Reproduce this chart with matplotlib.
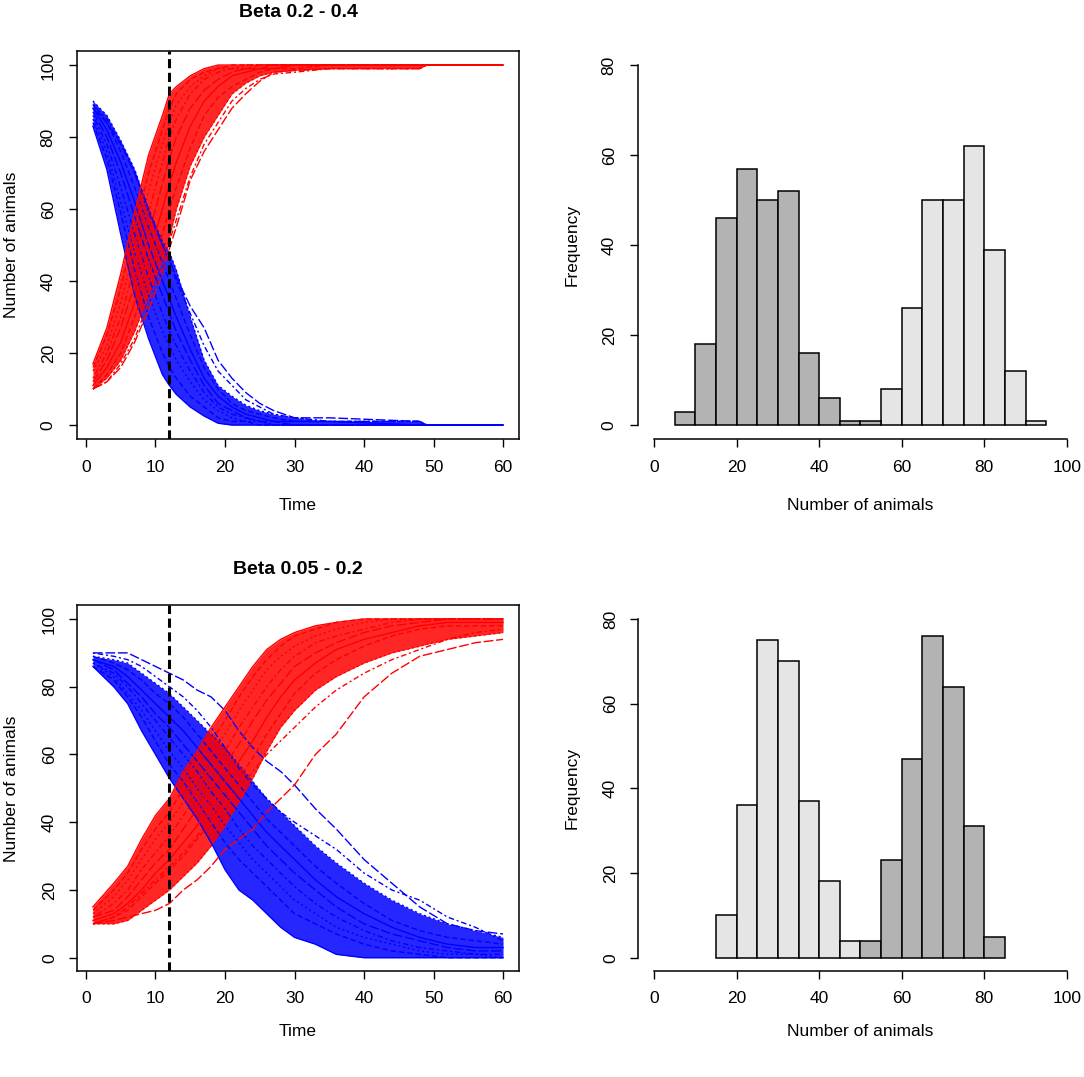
import numpy as np
import matplotlib
matplotlib.use('Agg')
import matplotlib.pyplot as plt

plt.rcParams['font.family'] = ['Liberation Sans', 'DejaVu Sans']
plt.rcParams['axes.linewidth'] = 1.1

# ---- data: simulated runs ----
# top panel (Beta 0.2 - 0.4), last two runs of each list are outliers (not in the core band)
top_time = [1, 3, 5, 7, 9, 11, 12, 13, 15, 17, 19, 21, 23, 25, 27, 30, 35, 48, 49, 60]
top_infected = [
    [17, 27, 42, 59, 75, 86, 92, 94, 97, 99, 100, 100, 100, 100, 100, 100, 100, 100, 100, 100],
    [16, 25, 38, 54, 70, 82, 88, 92, 96, 98, 99, 100, 100, 100, 100, 100, 100, 100, 100, 100],
    [15, 22, 34, 49, 65, 78, 84, 89, 94, 97, 99, 99, 100, 100, 100, 100, 100, 100, 100, 100],
    [13, 20, 30, 44, 59, 73, 80, 85, 92, 96, 98, 99, 99, 100, 100, 100, 100, 100, 100, 100],
    [12, 18, 27, 39, 53, 67, 74, 80, 88, 93, 96, 98, 99, 99, 100, 100, 100, 100, 100, 100],
    [11, 16, 23, 34, 47, 60, 67, 73, 83, 90, 94, 97, 98, 99, 99, 100, 100, 100, 100, 100],
    [10, 14, 20, 30, 41, 53, 60, 66, 77, 86, 91, 94, 96, 98, 99, 99, 100, 100, 100, 100],
    [10, 13, 18, 26, 36, 46, 52, 60, 72, 80, 86, 92, 95, 97, 98, 98.5, 99, 99, 100, 100],
    [10, 12, 17, 24, 34, 44, 51, 57, 69, 78, 84, 90, 93.5, 96, 97.5, 98, 99, 99, 100, 100],
    [10, 12, 16, 23, 32, 42, 49, 55, 68, 76, 82, 88, 92, 95.5, 98, 98.5, 99, 99, 100, 100],
]
top_susceptible = [
    [83, 71, 53, 36, 24, 14, 11, 8.5, 5, 2.5, 0.5, 0, 0, 0, 0, 0, 0, 0, 0, 0],
    [84, 74, 59, 43, 30, 20, 16, 13, 8, 5, 2, 1, 1, 0, 0, 0, 0, 0, 0, 0],
    [85, 76, 62, 48, 36, 26, 22, 18, 12, 7, 4, 2, 1, 1, 0, 0, 0, 0, 0, 0],
    [86, 78, 66, 53, 41, 31, 26, 22, 15, 9, 5, 3, 2, 1, 0, 0, 0, 0, 0, 0],
    [87, 80, 70, 58, 46, 36, 31, 26, 18, 11, 6, 4, 2, 1, 1, 0, 0, 0, 0, 0],
    [88, 82, 73, 62, 50, 40, 35, 30, 21, 13, 8, 5, 3, 2, 1, 1, 1, 0, 0, 0],
    [89, 84, 76, 66, 55, 45, 40, 35, 25, 16, 10, 6, 4, 3, 2, 1, 1, 1, 0, 0],
    [90, 86, 79, 71, 60, 51, 48, 43, 30, 18, 11, 8, 5.5, 4, 3, 2, 1, 1, 0, 0],
    [89, 85, 78, 70, 59, 50, 46, 40, 31, 22, 15, 11, 7, 5, 3, 2, 1, 1, 0, 0],
    [88, 84, 78, 70, 60, 50, 46, 41, 33, 27, 18, 13, 9, 6, 4, 2, 2, 1, 0, 0],
]

# bottom panel (Beta 0.05 - 0.2), last two runs of each list are outliers
bot_time = [1, 4, 6, 8, 10, 12, 14, 16, 18, 20, 22, 24, 26, 28, 30, 33, 36, 40, 44, 48, 52, 56, 60]
bot_infected = [
    [15, 22, 27, 35, 42, 47, 55, 61, 68, 74, 80, 86, 91, 94, 96, 98, 99, 100, 100, 100, 100, 100, 100],
    [14, 20, 25, 32, 38, 43, 50, 57, 64, 70, 77, 83, 88, 92, 95, 97, 99, 100, 100, 100, 100, 100, 100],
    [13, 18, 23, 29, 35, 40, 46, 53, 60, 66, 73, 79, 85, 89, 92, 95, 97, 99, 100, 100, 100, 100, 100],
    [12, 16, 20, 26, 31, 36, 42, 48, 55, 61, 68, 74, 80, 85, 89, 93, 95, 97, 99, 100, 100, 100, 100],
    [12, 14, 18, 23, 28, 32, 38, 44, 50, 57, 63, 70, 76, 81, 86, 90, 93, 96, 98, 99, 100, 100, 100],
    [11, 13, 16, 20, 25, 29, 34, 39, 45, 52, 58, 64, 71, 77, 82, 87, 91, 94, 96, 98, 99, 99, 99],
    [10, 12, 14, 18, 22, 26, 30, 35, 40, 46, 53, 59, 66, 72, 78, 84, 88, 92, 95, 97, 98, 98, 98],
    [10, 10, 11, 14, 17, 20, 24, 28, 33, 39, 46, 53, 61, 68, 73, 79, 83, 87, 90, 92, 94, 95, 96],
    [10, 12, 15, 19, 23, 27, 31, 36, 41, 45, 50, 55, 60, 64, 68, 74, 79, 84, 88, 91, 94, 96, 97],
    [10, 11, 12, 13, 14, 16, 20, 23, 27, 32, 35, 38, 43, 47, 51, 60, 66, 77, 84, 89, 91, 93, 94],
]
bot_susceptible = [
    [86, 80, 75, 67, 60, 53, 47, 41, 34, 26, 20, 17, 13, 9, 6, 4, 1, 0, 0, 0, 0, 0, 0],
    [86, 82, 77, 71, 64, 57, 52, 46, 40, 34, 29, 25, 21, 17, 13, 10, 7, 4, 2, 1, 0, 0, 0],
    [87, 83, 78, 73, 67, 61, 56, 50, 45, 39, 34, 29, 25, 21, 17, 13, 9, 6, 4, 2, 1, 1, 0],
    [87, 84, 80, 75, 70, 65, 60, 55, 49, 44, 38, 33, 29, 25, 21, 16, 12, 8, 5, 3, 2, 1, 1],
    [88, 85, 81, 77, 72, 68, 63, 58, 53, 48, 43, 38, 33, 29, 25, 20, 15, 10, 7, 5, 3, 2, 2],
    [88, 86, 83, 79, 75, 71, 67, 62, 57, 52, 47, 42, 37, 33, 29, 23, 18, 13, 9, 6, 4, 3, 3],
    [89, 87, 85, 82, 78, 75, 71, 66, 61, 56, 51, 46, 41, 37, 33, 27, 22, 16, 11, 8, 6, 5, 4],
    [89, 88, 87, 84, 81, 78, 74, 70, 66, 62, 57, 52, 47, 43, 39, 33, 28, 22, 17, 13, 10, 8, 6],
    [90, 89, 88, 86, 83, 80, 77, 73, 68, 62, 56, 51, 47, 43, 40, 36, 32, 25, 20, 17, 12, 9, 5],
    [90, 90, 90, 88, 86, 84, 82, 79, 77, 73, 67, 62, 58, 55, 51, 44, 38, 29, 22, 15, 10, 8, 7],
]

sample_day = 12

# histograms of herd counts at day 12 (bin width 5)
top_dark_bins = [5, 10, 15, 20, 25, 30, 35, 40, 45, 50]
top_dark_counts = [3, 18, 46, 57, 50, 52, 16, 6, 1, 1]
top_light_bins = [55, 60, 65, 70, 75, 80, 85, 90]
top_light_counts = [8, 26, 50, 50, 62, 39, 12, 1]
bot_light_bins = [15, 20, 25, 30, 35, 40, 45]
bot_light_counts = [10, 36, 75, 70, 37, 18, 4]
bot_dark_bins = [50, 55, 60, 65, 70, 75, 80]
bot_dark_counts = [4, 23, 47, 76, 64, 31, 5]

dark_grey = '#b3b3b3'
light_grey = '#e5e5e5'
styles = ['-', (0, (4, 2)), (0, (1.5, 2)), (0, (1.5, 2, 4, 2)), (0, (7, 2))]

FS = 12.5
PX = 0.72  # points per pixel at dpi 100


def style_axis(ax, pad):
    ax.tick_params(direction='out', length=6, width=1.0, labelsize=FS, pad=pad)
    for lab in ax.get_yticklabels():
        lab.set_rotation(90)
        lab.set_va('center')


def curve_panel(ax, t, sus, inf, title, title_off, xlab_off, tick_pad, n_out=2):
    t = np.array(t)
    for runs, col in [(sus, 'blue'), (inf, 'red')]:
        core = np.array(runs[:len(runs) - n_out])
        ax.fill_between(t, core.min(axis=0), core.max(axis=0), color=col,
                        alpha=0.85, lw=0)
        for i, r in enumerate(runs):
            ax.plot(t, r, color=col, lw=1.0, ls=styles[i % len(styles)])
    ax.axvline(sample_day, color='black', lw=2.2, ls=(0, (3.0, 1.5)))
    ax.set_xlim(1 - 0.04 * 59, 60 + 0.04 * 59)
    ax.set_ylim(-4, 104)
    ax.set_xticks(range(0, 61, 10))
    ax.set_yticks(range(0, 101, 20))
    style_axis(ax, tick_pad)
    ax.annotate(title, xy=(0.5, 1), xytext=(0, title_off * PX), textcoords='offset points',
                xycoords='axes fraction', ha='center', va='center', fontsize=14,
                fontweight='bold')
    ax.annotate('Time', xy=(0.5, 0), xytext=(0, -xlab_off * PX), textcoords='offset points',
                xycoords='axes fraction', ha='center', va='center', fontsize=FS)
    ax.annotate('Number of animals', xy=(0, 0.5), xytext=(-65 * PX, 0),
                textcoords='offset points', xycoords='axes fraction', ha='center',
                va='center', rotation=90, fontsize=FS)


def hist_panel(ax, first, second, xlab_off, tick_pad):
    for bins, counts, col in [first, second]:
        ax.bar(bins, counts, width=5, align='edge', color=col, edgecolor='black', lw=1.1)
    ax.set_xlim(-4, 104)
    ax.set_ylim(-3.2, 83.2)
    ax.set_xticks(range(0, 101, 20))
    ax.set_yticks(range(0, 81, 20))
    for s in ['top', 'right']:
        ax.spines[s].set_visible(False)
    ax.spines['left'].set_bounds(0, 80)
    ax.spines['bottom'].set_bounds(0, 100)
    style_axis(ax, tick_pad)
    ax.annotate('Number of animals', xy=(0.5, 0), xytext=(0, -xlab_off * PX),
                textcoords='offset points', xycoords='axes fraction', ha='center',
                va='center', fontsize=FS)
    ax.annotate('Frequency', xy=(0, 0.5), xytext=(-65 * PX, 0), textcoords='offset points',
                xycoords='axes fraction', ha='center', va='center', rotation=90,
                fontsize=FS)


fig = plt.figure(figsize=(10.84, 10.77), dpi=100)
ax1 = fig.add_axes([0.0706, 0.5920, 0.4086, 0.3610])
ax2 = fig.add_axes([0.5881, 0.5920, 0.4114, 0.3610])
ax3 = fig.add_axes([0.0706, 0.0982, 0.4086, 0.3396])
ax4 = fig.add_axes([0.5881, 0.0982, 0.4114, 0.3396])

curve_panel(ax1, top_time, top_susceptible, top_infected, 'Beta 0.2 - 0.4', 38, 66, 9)
hist_panel(ax2, (top_light_bins, top_light_counts, light_grey),
           (top_dark_bins, top_dark_counts, dark_grey), 66, 9)
curve_panel(ax3, bot_time, bot_susceptible, bot_infected, 'Beta 0.05 - 0.2', 35.5, 60.5, 8)
hist_panel(ax4, (bot_light_bins, bot_light_counts, light_grey),
           (bot_dark_bins, bot_dark_counts, dark_grey), 60.5, 8)

fig.savefig('out.png', dpi=100)
